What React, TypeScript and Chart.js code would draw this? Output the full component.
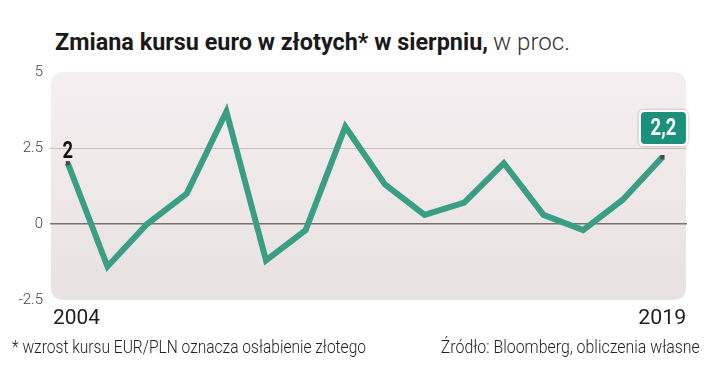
import React, { useEffect, useRef } from "react";
import { Chart, registerables } from "chart.js";

Chart.register(...registerables);

const years = [2004, 2005, 2006, 2007, 2008, 2009, 2010, 2011, 2012, 2013, 2014, 2015, 2016, 2017, 2018, 2019];
const values = [2.0, -1.4, 0.0, 1.0, 3.7, -1.2, -0.2, 3.2, 1.3, 0.3, 0.7, 2.0, 0.3, -0.2, 0.8, 2.2];
const yTicks = [-2.5, 0, 2.5, 5];
const yTickLabels = ["-2.5", "0", "2.5", "5"];
const firstLabel = "2";
const lastLabel = "2,2";
const titleBold = "Zmiana kursu euro w złotych* w sierpniu,";
const titleLight = "w proc.";
const noteText = "* wzrost kursu EUR/PLN oznacza osłabienie złotego";
const sourceText = "Źródło: Bloomberg, obliczenia własne";

const FONT = "Roboto, 'Noto Sans', sans-serif";
const COND = 0.8;

let measureCtx: CanvasRenderingContext2D | null = null;
function measure(text: string, font: string): number {
  if (!measureCtx) measureCtx = document.createElement("canvas").getContext("2d");
  measureCtx!.font = font;
  return measureCtx!.measureText(text).width;
}

function roundRect(ctx: CanvasRenderingContext2D, x: number, y: number, w: number, h: number, r: number) {
  ctx.beginPath();
  ctx.moveTo(x + r, y);
  ctx.lineTo(x + w - r, y);
  ctx.quadraticCurveTo(x + w, y, x + w, y + r);
  ctx.lineTo(x + w, y + h - r);
  ctx.quadraticCurveTo(x + w, y + h, x + w - r, y + h);
  ctx.lineTo(x + r, y + h);
  ctx.quadraticCurveTo(x, y + h, x, y + h - r);
  ctx.lineTo(x, y + r);
  ctx.quadraticCurveTo(x, y, x + r, y);
  ctx.closePath();
}

function condText(ctx: CanvasRenderingContext2D, text: string, x: number, y: number) {
  ctx.save();
  ctx.translate(x, y);
  ctx.scale(COND, 1);
  ctx.fillText(text, 0, 0);
  ctx.restore();
}

const bgPlugin = {
  id: "bgPanel",
  beforeDraw(chart: any) {
    const { ctx, chartArea } = chart;
    const { left, top, right, bottom } = chartArea;
    ctx.save();
    const g = ctx.createLinearGradient(0, top, 0, bottom);
    g.addColorStop(0, "#f6eff1");
    g.addColorStop(1, "#e8e1e1");
    ctx.fillStyle = g;
    roundRect(ctx, left + 1, top, right - left - 2, bottom - top, 13);
    ctx.fill();
    ctx.restore();
  },
};

const labelPlugin = {
  id: "endLabels",
  afterDatasetsDraw(chart: any) {
    const { ctx } = chart;
    const xs = chart.scales.x;
    const ys = chart.scales.y;
    ctx.save();
    const x0 = xs.getPixelForValue(years[0]);
    const y0 = ys.getPixelForValue(values[0]);
    ctx.font = `bold 23px ${FONT}`;
    ctx.fillStyle = "#111";
    ctx.textAlign = "center";
    ctx.textBaseline = "alphabetic";
    condText(ctx, firstLabel, x0, y0 - 5);
    const n = years.length - 1;
    const x1 = xs.getPixelForValue(years[n]);
    const y1 = ys.getPixelForValue(values[n]);
    const bw = 45, bh = 32;
    const bx = x1 - bw / 2 + 1, by = y1 - 13 - bh;
    ctx.shadowColor = "rgba(0,0,0,0.3)";
    ctx.shadowBlur = 3;
    ctx.fillStyle = "#ffffff";
    roundRect(ctx, bx - 2, by - 2, bw + 4, bh + 4, 5);
    ctx.fill();
    ctx.shadowColor = "transparent";
    ctx.fillStyle = "#1b907a";
    roundRect(ctx, bx, by, bw, bh, 4);
    ctx.fill();
    ctx.fillStyle = "#ffffff";
    ctx.font = `bold 23px ${FONT}`;
    ctx.textBaseline = "middle";
    condText(ctx, lastLabel, bx + bw / 2, by + bh / 2 + 1);
    ctx.restore();
  },
};

function FitText(props: {
  text: string;
  left: number;
  top: number;
  width: number;
  size: number;
  weight: number | string;
  color: string;
  anchor?: "left" | "right";
}) {
  const font = `${props.weight} ${props.size}px ${FONT}`;
  const w = measure(props.text, font);
  const s = props.width / w;
  const left = props.anchor === "right" ? props.left - w : props.left;
  return (
    <div
      style={{
        position: "absolute",
        left,
        top: props.top,
        font,
        color: props.color,
        whiteSpace: "nowrap",
        lineHeight: 1,
        transform: `scaleX(${s})`,
        transformOrigin: props.anchor === "right" ? "right top" : "left top",
      }}
    >
      {props.text}
    </div>
  );
}

export default function App() {
  const ref = useRef<HTMLCanvasElement>(null);
  useEffect(() => {
    if (!ref.current) return;
    const n = years.length - 1;
    const chart = new Chart(ref.current, {
      type: "line",
      data: {
        datasets: [
          {
            data: years.map((y, i) => ({ x: y, y: values[i] })),
            borderColor: "#3a9e84",
            borderWidth: 6,
            borderJoinStyle: "miter",
            tension: 0,
            pointStyle: "rect",
            pointRadius: years.map((_, i) => (i === 0 || i === n ? 3 : 0)),
            pointBackgroundColor: "#4a4a4a",
            pointBorderColor: "#4a4a4a",
            pointBorderWidth: 0,
            clip: false as any,
          },
        ],
      },
      options: {
        animation: false,
        responsive: false,
        maintainAspectRatio: false,
        layout: { padding: { left: 0, top: 72, right: 33, bottom: 82 } },
        plugins: { legend: { display: false }, tooltip: { enabled: false }, title: { display: false } },
        scales: {
          x: {
            type: "linear",
            display: false,
            min: 2003.55,
            max: 2019.62,
          },
          y: {
            min: -2.5,
            max: 5,
            afterFit(scale: any) {
              scale.width = 50;
            },
            afterBuildTicks(scale: any) {
              scale.ticks = yTicks.map((v) => ({ value: v }));
            },
            border: { display: false },
            grid: {
              drawTicks: false,
              lineWidth: (c: any) => (c.tick && c.tick.value === 0 ? 1.5 : 1),
              color: (c: any) => {
                const v = c.tick ? c.tick.value : null;
                if (v === 0) return "#7c6f6f";
                if (v === 2.5) return "#cdbfbf";
                return "rgba(0,0,0,0)";
              },
            },
            ticks: {
              padding: 7,
              color: "#444",
              font: { family: FONT, size: 15, weight: 300 as any },
              callback: (v: any) => {
                const i = yTicks.indexOf(Number(v));
                return i >= 0 ? yTickLabels[i] : "";
              },
            },
          },
        },
      },
      plugins: [bgPlugin, labelPlugin],
    });
    return () => chart.destroy();
  }, []);

  const wrap: React.CSSProperties = {
    position: "absolute",
    left: 0,
    top: 0,
    width: 720,
    height: 382,
    background: "#fff",
    overflow: "hidden",
  };
  return (
    <div style={wrap}>
      <FitText text={titleBold} left={55} top={30} width={433} size={24} weight="bold" color="#1a1a1a" />
      <FitText text={titleLight} left={493} top={30} width={77} size={24} weight={300} color="#333" />
      <canvas ref={ref} width={720} height={382} style={{ position: "absolute", left: 0, top: 0 }} />
      <FitText text={String(years[0])} left={53} top={307} width={47} size={21} weight={400} color="#1e1e1e" />
      <FitText
        text={String(years[years.length - 1])}
        left={686}
        top={307}
        width={48}
        size={21}
        weight={400}
        color="#1e1e1e"
        anchor="right"
      />
      <FitText text={noteText} left={12} top={337} width={354} size={19} weight={300} color="#222" />
      <FitText text={sourceText} left={700} top={337} width={259} size={19} weight={300} color="#222" anchor="right" />
    </div>
  );
}
